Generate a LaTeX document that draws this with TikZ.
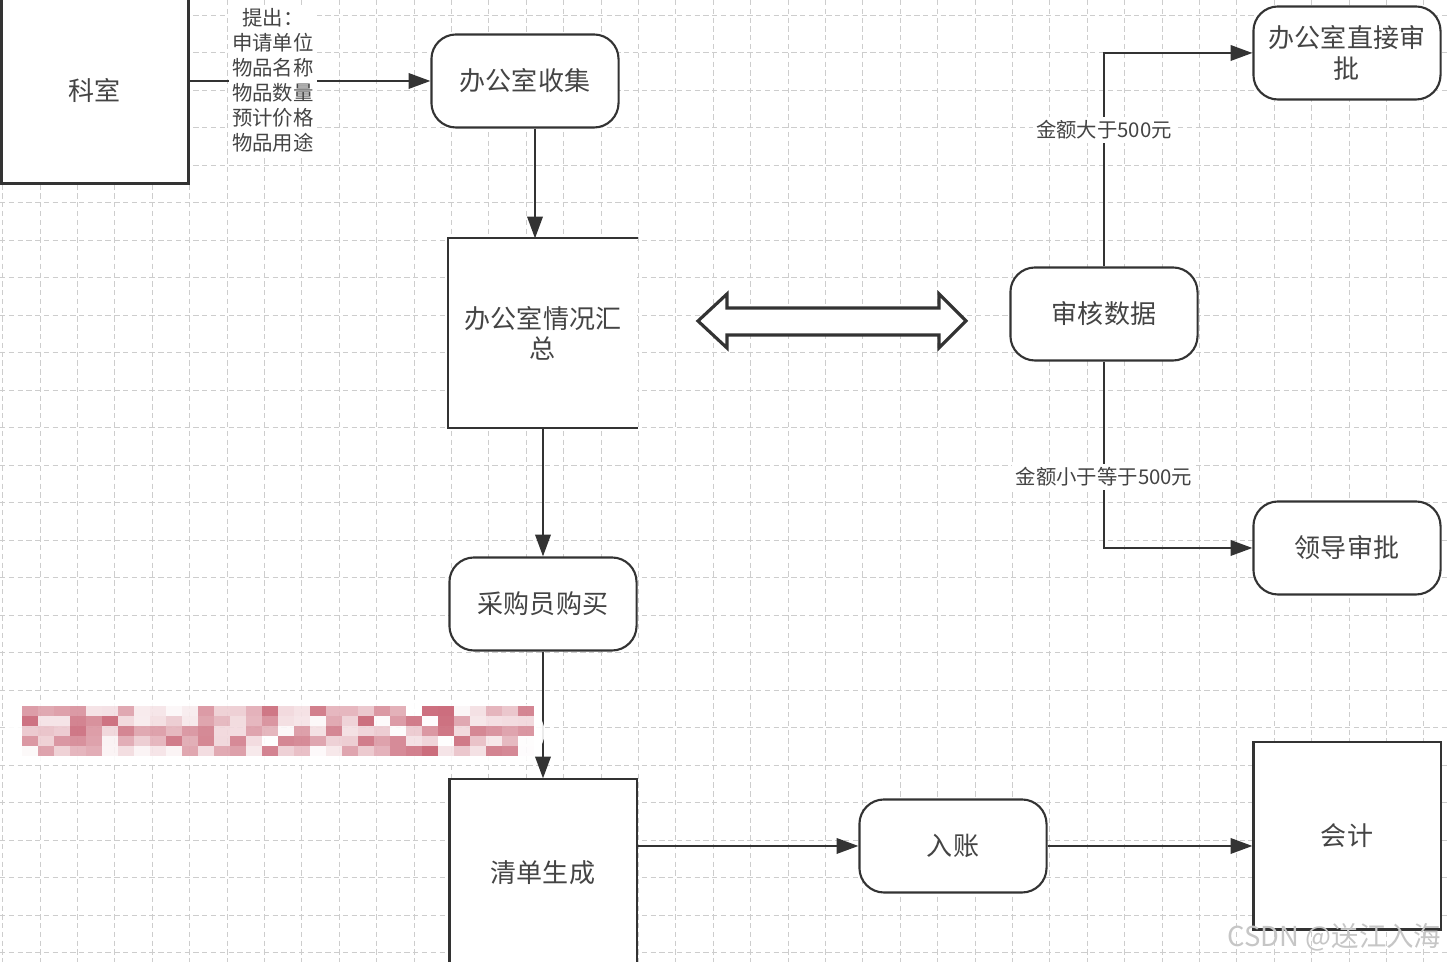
\documentclass[tikz,border=0pt]{standalone}
\usepackage{fontspec}
\usetikzlibrary{arrows.meta}
\newfontfamily\cjk{Noto Sans CJK SC}
\definecolor{ink}{RGB}{51,51,51}
\definecolor{txt}{RGB}{68,68,68}
\definecolor{gridc}{RGB}{205,205,205}
\definecolor{mosaic}{RGB}{190,70,90}
\tikzset{
  box/.style={draw=ink,line width=0.6pt,fill=white,minimum width=1.87cm,minimum height=1.87cm,inner sep=0pt,align=center,text=txt,font=\cjk\fontsize{7.4}{8.6}\selectfont},
  rbox/.style={box,rounded corners=7pt,minimum height=0.93cm},
  lab/.style={fill=white,inner sep=1pt,align=center,text=txt,font=\cjk\fontsize{5.8}{7.1}\selectfont},
  flow/.style={draw=ink,line width=0.6pt,-{Triangle[length=6.2pt,width=4.4pt]}},
  gline/.style={gridc,line width=0.25pt,dash pattern=on 1.5pt off 1pt}
}
\begin{document}
\begin{tikzpicture}[x=0.01cm,y=-0.01cm]
\clip (0,0) rectangle (1447,962);
\fill[white] (0,0) rectangle (1447,962);
\foreach \k in {-1,...,38} \draw[gline] (40+37.4*\k,0) -- (40+37.4*\k,962);
\foreach \k in {0,...,25} \draw[gline] (0,15+37.5*\k) -- (1447,15+37.5*\k);

\node[box] (ks) at (95,90) {科室};
\node[rbox] (sj) at (525,81) {办公室收集};
\node[box,draw=none] (hz) at (543,333) {办公室情况汇\\总};
\draw[ink,line width=0.6pt] (hz.north east) -- (hz.north west) -- (hz.south west) -- (hz.south east);
\node[rbox] (cg) at (543,604) {采购员购买};
\node[box] (qd) at (543,873) {清单生成};
\node[rbox] (rz) at (953,846) {入账};
\node[box] (kj) at (1347,836) {会计};
\node[rbox] (sh) at (1104,314) {审核数据};
\node[rbox] (zj) at (1347,53) {办公室直接审\\批};
\node[rbox] (ld) at (1347,548) {领导审批};

\draw[flow] (ks.east |- sj.west) -- (sj.west);
\node[lab] (tc) at (273,80) {提出：\\申请单位\\物品名称\\物品数量\\预计价格\\物品用途};
\coordinate (c1) at ([xshift=1mm]sj.south);
\draw[flow] (c1) -- (c1 |- hz.north);
\draw[flow] (hz.south) -- (cg.north);
\draw[flow] (cg.south) -- (qd.north);
\draw[flow] (qd.east |- rz.west) -- (rz.west);
\draw[flow] (rz.east) -- (rz.east -| kj.west);
\draw[flow] (sh.north) |- node[lab,pos=0.32] (gt) {金额大于500元} (zj.west);
\draw[flow] (sh.south) |- node[lab,pos=0.31] (le) {金额小于等于500元} (ld.west);

\draw[ink,line width=0.9pt,fill=white] (698,321) -- (727,294) -- (727,308) -- (939,308) -- (939,294) -- (966,321) -- (939,348) -- (939,335) -- (727,335) -- (727,348) -- cycle;

\fill[white,opacity=0.9,rounded corners=10pt] (8,700) rectangle (545,765);
\pgfmathsetseed{11}
\foreach \i in {0,...,31} \foreach \j in {0,...,4} {\pgfmathsetmacro\op{0.8*rnd} \fill[mosaic,opacity=\op] (22+16*\i,706+10*\j) rectangle ++(16,10);}

\node[text=gray!45,font=\cjk\fontsize{7.8}{9}\selectfont,anchor=east,inner sep=0pt] (wm) at (1442,937) {CSDN @送江入海};
\end{tikzpicture}
\end{document}
